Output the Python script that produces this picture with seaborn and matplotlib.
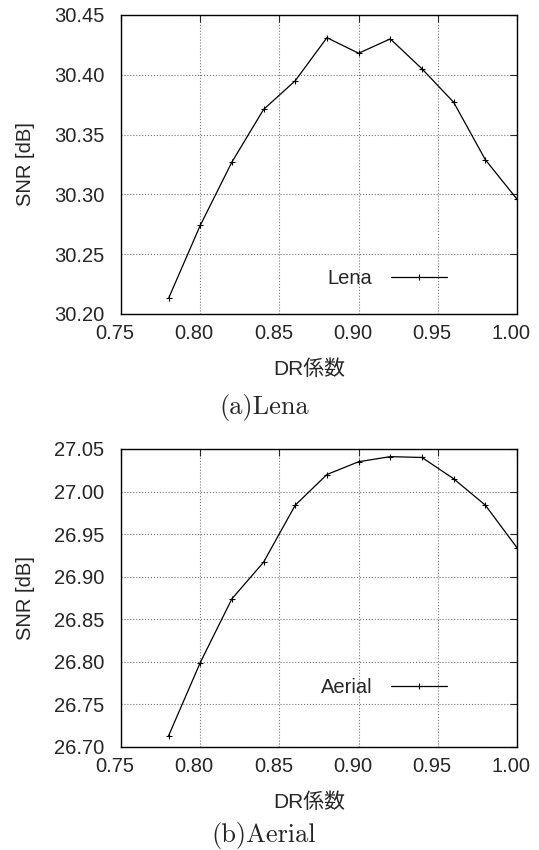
import matplotlib
matplotlib.use('Agg')
import matplotlib.pyplot as plt
import matplotlib.transforms as mtransforms
import seaborn as sns
import pandas as pd

# DR coefficient vs SNR for two test images
dr_coef = [0.78, 0.80, 0.82, 0.84, 0.86, 0.88, 0.90, 0.92, 0.94, 0.96, 0.98, 1.00]
snr_lena = [30.213, 30.274, 30.327, 30.371, 30.395, 30.431, 30.418, 30.430,
            30.405, 30.377, 30.329, 30.296]
snr_aerial = [26.713, 26.799, 26.874, 26.917, 26.984, 27.020, 27.035, 27.041,
              27.040, 27.015, 26.984, 26.934]

x_ticks = [0.75, 0.80, 0.85, 0.90, 0.95, 1.00]
lena_ticks = [30.20, 30.25, 30.30, 30.35, 30.40, 30.45]
aerial_ticks = [26.70, 26.75, 26.80, 26.85, 26.90, 26.95, 27.00, 27.05]

sns.set_style('white')
plt.rcParams['font.family'] = ['Liberation Sans', 'Noto Sans CJK JP']

fig = plt.figure(figsize=(5.39, 8.50), dpi=100)
ax_top = fig.add_axes([0.2245, 0.6306, 0.7347, 0.3518])
ax_bot = fig.add_axes([0.2245, 0.1212, 0.7347, 0.3506])

panels = [
    (ax_top, snr_lena, 'Lena', lena_ticks, '(a)Lena', 0.12, 0.521),
    (ax_bot, snr_aerial, 'Aerial', aerial_ticks, '(b)Aerial', 0.198, 0.0165),
]

# gnuplot places x tick labels a little left of the tick
shift = mtransforms.ScaledTranslation(-6 / 100, 0, fig.dpi_scale_trans)

for ax, vals, name, yticks, caption, leg_y, cap_y in panels:
    df = pd.DataFrame({'DR': dr_coef, 'SNR': vals})
    sns.lineplot(data=df, x='DR', y='SNR', ax=ax, color='black', linewidth=0.9,
                 marker='+', markersize=5, markeredgewidth=0.8,
                 markeredgecolor='black', label=name)
    ax.set_xlim(x_ticks[0], x_ticks[-1])
    ax.set_ylim(yticks[0], yticks[-1])
    ax.set_xticks(x_ticks)
    ax.set_xticklabels([f'{t:.2f}' for t in x_ticks])
    ax.set_yticks(yticks)
    ax.set_yticklabels([f'{t:.2f}' for t in yticks])
    ax.tick_params(axis='both', direction='in', length=5, width=0.8,
                   labelsize=14.5, top=True, right=True)
    ax.tick_params(axis='x', pad=7)
    ax.tick_params(axis='y', pad=12)
    for lbl in ax.get_xticklabels():
        lbl.set_transform(lbl.get_transform() + shift)
    ax.grid(True, color='#777777', linestyle=':', linewidth=0.8)
    for sp in ax.spines.values():
        sp.set_color('black')
        sp.set_linewidth(1.0)
    ax.set_xlabel('DR係数', fontsize=15, labelpad=12, x=0.475)
    ax.set_ylabel('SNR [dB]', fontsize=14.5, labelpad=14)
    ax.legend(loc='center right', bbox_to_anchor=(0.823, leg_y), frameon=False,
              markerfirst=False, fontsize=14.5, handlelength=2.8,
              handletextpad=0.9, borderpad=0, borderaxespad=0)
    fig.text(0.49, cap_y, caption, ha='center', va='center',
             fontsize=19, family='cmr10')

plt.savefig('out.png', dpi=100)
